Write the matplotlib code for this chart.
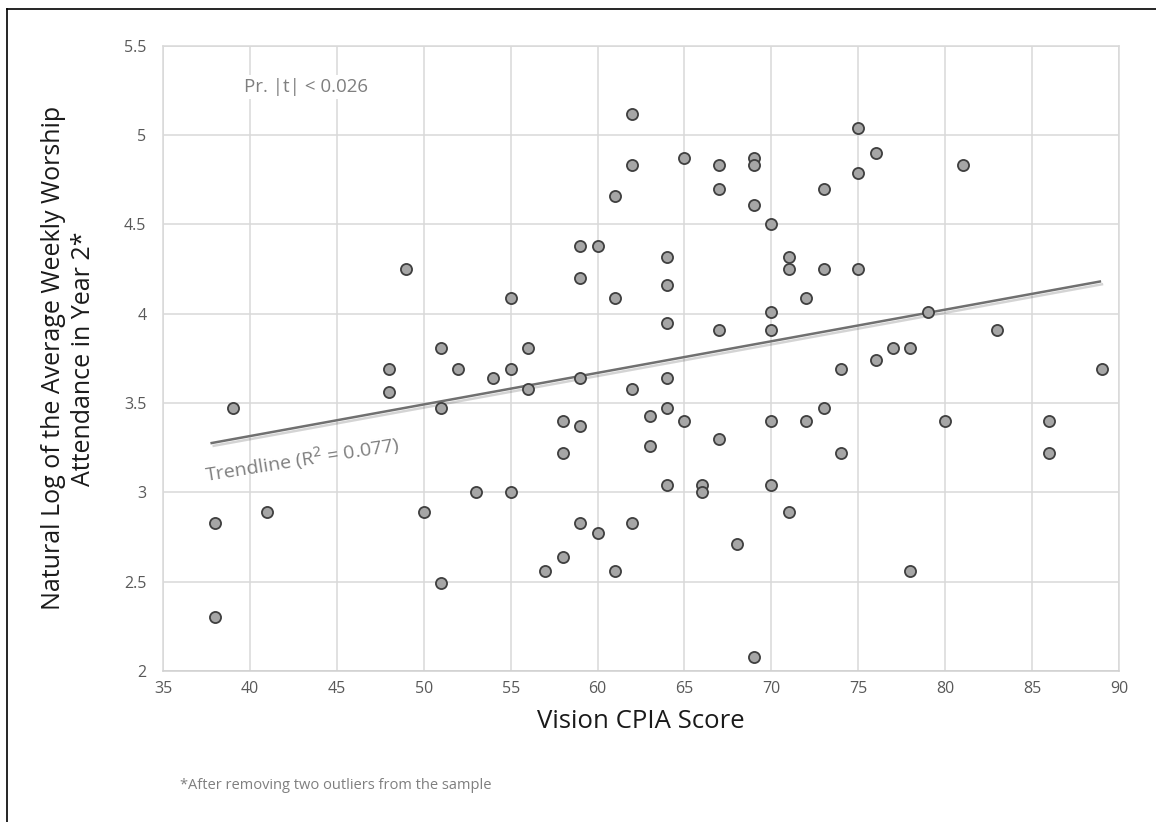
import matplotlib.pyplot as plt
import matplotlib.patheffects as pe
import numpy as np

plt.rcParams['font.family'] = ['Open Sans', 'DejaVu Sans']

# CPIA vision score vs ln(avg weekly attendance), year 2
cpia = [38, 38, 39, 41, 48, 48, 49, 50, 51, 51, 51, 52, 53, 54,
        55, 55, 55, 56, 56, 57, 58, 58, 58, 59, 59, 59, 59, 59,
        60, 60, 61, 61, 61, 62, 62, 62, 62, 63, 63,
        64, 64, 64, 64, 64, 64, 65, 65, 66, 66,
        67, 67, 67, 67, 68, 69, 69, 69, 69,
        70, 70, 70, 70, 70, 71, 71, 71, 72, 72, 73, 73, 73,
        74, 74, 75, 75, 75, 76, 76, 77, 78, 78, 79, 80, 81, 83, 86, 86, 89]
log_att = [2.30, 2.83, 3.47, 2.89, 3.69, 3.56, 4.25, 2.89, 3.81, 3.47, 2.49, 3.69, 3.00, 3.64,
           4.09, 3.69, 3.00, 3.81, 3.58, 2.56, 3.40, 3.22, 2.64, 4.38, 4.20, 3.64, 3.37, 2.83,
           4.38, 2.77, 4.66, 4.09, 2.56, 5.12, 4.83, 3.58, 2.83, 3.43, 3.26,
           4.32, 4.16, 3.95, 3.64, 3.47, 3.04, 4.87, 3.40, 3.04, 3.00,
           4.83, 4.70, 3.91, 3.30, 2.71, 4.87, 4.83, 4.61, 2.08,
           4.50, 4.01, 3.91, 3.40, 3.04, 4.32, 4.25, 2.89, 4.09, 3.40, 4.70, 4.25, 3.47,
           3.69, 3.22, 5.04, 4.79, 4.25, 4.90, 3.74, 3.81, 3.81, 2.56, 4.01, 3.40, 4.83, 3.91, 3.40, 3.22, 3.69]

# trendline end points (Excel linear fit on the full sample)
trend_x = [37.8, 88.9]
trend_y = [3.276, 4.18]

fig = plt.figure(figsize=(11.56, 8.22), dpi=100)
ax = fig.add_axes([0.141, 0.1837, 0.827, 0.7607])

ax.scatter(cpia, log_att, s=64, facecolor='#a6a6a6', edgecolor='#3f3f3f', linewidth=1.3, zorder=3)

ax.plot(trend_x, trend_y, color='#707070', lw=1.8, zorder=2,
        path_effects=[pe.SimpleLineShadow(offset=(1.5, -2), alpha=0.25, shadow_color='#555555'),
                      pe.Normal()])

ax.set_xlim(35, 90)
ax.set_ylim(2, 5.5)
ax.set_xticks(np.arange(35, 91, 5))
ax.set_yticks(np.arange(2, 5.51, 0.5))
ax.set_yticklabels(['2', '2.5', '3', '3.5', '4', '4.5', '5', '5.5'])
ax.grid(True, color='#d9d9d9', lw=1.1, zorder=0)
ax.set_axisbelow(True)
for s in ax.spines.values():
    s.set_color('#d9d9d9')
    s.set_linewidth(1.1)
ax.spines['bottom'].set_color('#cfcfcf')
ax.tick_params(length=0, labelsize=11.5, labelcolor='#595959')
ax.tick_params(axis='x', pad=7)
ax.tick_params(axis='y', pad=12)

ax.set_xlabel('Vision CPIA Score', fontsize=18.5, color='#1a1a1a', labelpad=9)
ax.set_ylabel('Natural Log of the Average Weekly Worship\nAttendance in Year 2*',
              fontsize=18, color='#1a1a1a', labelpad=20, linespacing=1.25)

ax.text(43.2, 5.27, 'Pr. |t| < 0.026', fontsize=13.5, color='#7f7f7f', ha='center', va='center',
        bbox=dict(facecolor='white', edgecolor='none', pad=2))
ax.text(37.5, 3.06, 'Trendline (R$^2$ = 0.077)', fontsize=14, color='#7f7f7f',
        rotation=9, rotation_mode='anchor', ha='left', va='baseline')

fig.text(180 / 1156, 1 - 785 / 822, '*After removing two outliers from the sample',
         fontsize=10.5, color='#7f7f7f', ha='left', va='center')

# frame lines along the left and top edges
fig.add_artist(plt.Line2D([7 / 1156, 7 / 1156], [0, 1 - 9 / 822], color='black', lw=1.2))
fig.add_artist(plt.Line2D([7 / 1156, 1], [1 - 9 / 822, 1 - 9 / 822], color='black', lw=1.2))

fig.savefig('out.png', dpi=100)
